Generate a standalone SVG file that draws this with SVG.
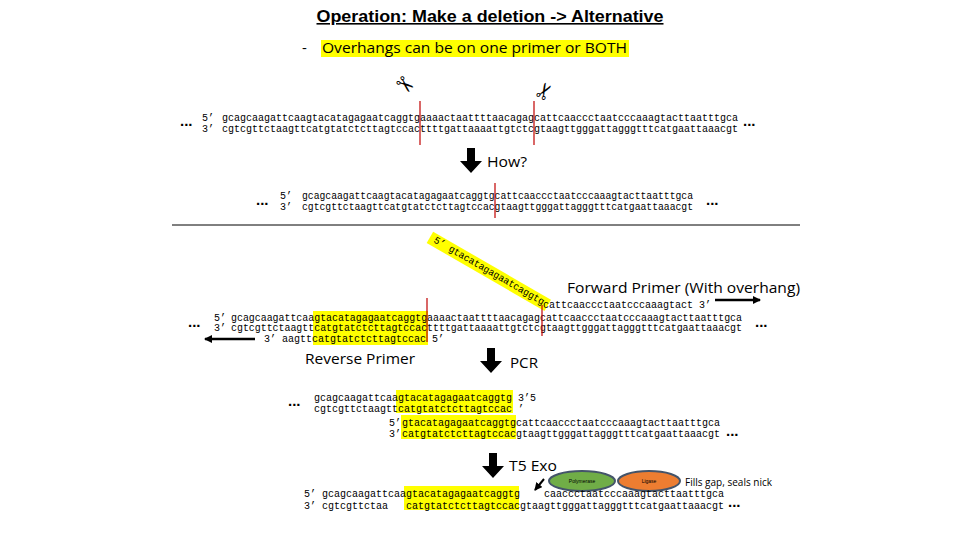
<svg xmlns="http://www.w3.org/2000/svg" width="960" height="540" viewBox="0 0 960 540">
<style>
.m{font-family:"Liberation Mono","DejaVu Sans Mono",monospace;font-size:10px;fill:#000;white-space:pre}
.s{font-family:"Open Sans","Liberation Sans",sans-serif;fill:#000}
.d{font-family:"Liberation Sans",sans-serif;font-size:15px;font-weight:bold;fill:#000}
.hl{fill:#ffff00}
.red{stroke:#c00000;stroke-width:1.2}
.blk{fill:#000}
</style>
<defs>
<marker id="ah" markerWidth="8" markerHeight="8" refX="7" refY="4" orient="auto" markerUnits="userSpaceOnUse"><path d="M0,0 L8,4 L0,8 z" fill="#000"/></marker>
<path id="barrow" d="M-4,0 H4 V13 H11 L0,25 L-11,13 H-4 z"/>
</defs>
<g id="title">
<text x="490" y="22" text-anchor="middle" font-family="Liberation Sans,sans-serif" font-size="16" font-weight="bold" text-decoration="underline" textLength="347" lengthAdjust="spacingAndGlyphs">Operation: Make a deletion -&gt; Alternative</text>
<rect class="hl" x="321" y="40" width="308" height="17"/>
<text class="s" x="302" y="53" font-size="15">-</text>
<text class="s" x="322" y="53" font-size="15" textLength="305" lengthAdjust="spacingAndGlyphs">Overhangs can be on one primer or BOTH</text>
</g>
<g id="scissors" font-family="DejaVu Sans,sans-serif" font-size="22">
<text x="0" y="0" transform="translate(404,86) rotate(40)" text-anchor="middle" dominant-baseline="middle">✂</text>
<text x="0" y="0" transform="translate(546,92) rotate(-60)" text-anchor="middle" dominant-baseline="middle">✂</text>
</g>
<g id="row1">
<text class="d" x="180" y="126">...</text>
<text class="m" x="202" y="121">5’</text>
<text class="m" x="222" y="121" textLength="516" lengthAdjust="spacingAndGlyphs">gcagcaagattcaagtacatagagaatcaggtgaaaactaattttaacagagcattcaaccctaatcccaaagtacttaatttgca</text>
<text class="m" x="202" y="132">3’</text>
<text class="m" x="222" y="132" textLength="516" lengthAdjust="spacingAndGlyphs">cgtcgttctaagttcatgtatctcttagtccacttttgattaaaattgtctcgtaagttgggattagggtttcatgaattaaacgt</text>
<text class="d" x="743" y="126">...</text>
<line class="red" x1="420" y1="101" x2="420" y2="145"/>
<line class="red" x1="534" y1="101" x2="534" y2="145"/>
</g>
<g id="how">
<use href="#barrow" x="471" y="148" class="blk"/>
<text class="s" x="487" y="167" font-size="15" textLength="40" lengthAdjust="spacingAndGlyphs">How?</text>
</g>
<g id="row2">
<text class="d" x="256" y="205">...</text>
<text class="m" x="280" y="199">5’</text>
<text class="m" x="302" y="199" textLength="391" lengthAdjust="spacingAndGlyphs">gcagcaagattcaagtacatagagaatcaggtgcattcaaccctaatcccaaagtacttaatttgca</text>
<text class="m" x="280" y="210">3’</text>
<text class="m" x="302" y="210" textLength="391" lengthAdjust="spacingAndGlyphs">cgtcgttctaagttcatgtatctcttagtccacgtaagttgggattagggtttcatgaattaaacgt</text>
<text class="d" x="706" y="205">...</text>
<line class="red" x1="495" y1="183" x2="495" y2="218"/>
</g>
<line x1="172" y1="225" x2="800" y2="225" stroke="#000" stroke-width="1"/>
<g id="forward-primer">
<g transform="translate(433,242) rotate(30)">
<rect class="hl" x="-5" y="-9" width="136" height="13"/>
<text class="m" x="0" y="0" textLength="126" lengthAdjust="spacingAndGlyphs">5’ gtacatagagaatcaggtg</text>
</g>
<text class="m" x="543" y="308">cattcaaccctaatcccaaagtact 3’</text>
<text class="s" x="567" y="293" font-size="15" textLength="233" lengthAdjust="spacingAndGlyphs">Forward Primer (With overhang)</text>
</g>
<g id="row3">
<rect class="hl" x="313" y="311" width="115" height="34"/>
<text class="d" x="188" y="327">...</text>
<text class="m" x="214" y="321">5’</text>
<text class="m" x="231" y="321" textLength="511" lengthAdjust="spacingAndGlyphs">gcagcaagattcaagtacatagagaatcaggtgaaaactaattttaacagagcattcaaccctaatcccaaagtacttaatttgca</text>
<text class="m" x="214" y="331">3’</text>
<text class="m" x="231" y="331" textLength="511" lengthAdjust="spacingAndGlyphs">cgtcgttctaagttcatgtatctcttagtccacttttgattaaaattgtctcgtaagttgggattagggtttcatgaattaaacgt</text>
<text class="d" x="755" y="327">...</text>
<line class="red" x1="427" y1="298" x2="427" y2="342"/>
<line class="red" x1="542" y1="305" x2="542" y2="336"/>
</g>
<g id="reverse-primer">
<text class="m" x="264" y="342">3’ aagttcatgtatctcttagtccac 5’</text>
<text class="s" x="305" y="364" font-size="15" textLength="110" lengthAdjust="spacingAndGlyphs">Reverse Primer</text>
</g>
<g id="connectors" stroke="#000" stroke-width="2.5" fill="none">
<line x1="255" y1="339" x2="205" y2="339" marker-end="url(#ah)"/>
<line x1="715" y1="300" x2="760" y2="300" marker-end="url(#ah)"/>
<line x1="544" y1="479" x2="535" y2="490" stroke-width="2" marker-end="url(#ah)"/>
</g>
<g id="pcr">
<use href="#barrow" x="491" y="348" class="blk"/>
<text class="s" x="510" y="368" font-size="15" textLength="28" lengthAdjust="spacingAndGlyphs">PCR</text>
</g>
<g id="pcr-products">
<rect class="hl" x="396" y="390" width="117" height="23"/>
<rect class="hl" x="401" y="415" width="115" height="24"/>
<text class="d" x="288" y="406">...</text>
<text class="m" x="314" y="401">gcagcaagattcaagtacatagagaatcaggtg 3’5</text>
<text class="m" x="314" y="412">cgtcgttctaagttcatgtatctcttagtccac ’</text>
<text class="m" x="389" y="426">5’</text>
<text class="m" x="402" y="426">gtacatagagaatcaggtgcattcaaccctaatcccaaagtacttaatttgca</text>
<text class="m" x="389" y="437">3’</text>
<text class="m" x="402" y="437">catgtatctcttagtccacgtaagttgggattagggtttcatgaattaaacgt</text>
<text class="d" x="726" y="436">...</text>
</g>
<g id="t5exo">
<use href="#barrow" x="493" y="453" class="blk"/>
<text class="s" x="509" y="471" font-size="15" textLength="48" lengthAdjust="spacingAndGlyphs">T5 Exo</text>
</g>
<g id="polymerase">
<ellipse cx="582" cy="481" rx="33" ry="10" fill="#70ad47" stroke="#44546a" stroke-width="2"/>
<text x="582" y="483" text-anchor="middle" font-family="Liberation Sans,sans-serif" font-size="5">Polymerase</text>
</g>
<g id="ligase">
<ellipse cx="649" cy="481" rx="31" ry="10" fill="#ed7d31" stroke="#44546a" stroke-width="2"/>
<text x="649" y="483" text-anchor="middle" font-family="Liberation Sans,sans-serif" font-size="5">Ligase</text>
</g>
<text class="s" x="685" y="486" font-size="10" textLength="87" lengthAdjust="spacingAndGlyphs">Fills gap, seals nick</text>
<g id="final">
<rect class="hl" x="404" y="486" width="115" height="24"/>
<text class="m" x="304" y="497">5’</text>
<text class="m" x="322" y="497">gcagcaagattcaagtacatagagaatcaggtg    caaccctaatcccaaagtacttaatttgca</text>
<text class="m" x="304" y="509">3’</text>
<text class="m" x="322" y="509">cgtcgttctaa   catgtatctcttagtccacgtaagttgggattagggtttcatgaattaaacgt</text>
<text class="d" x="728" y="507">...</text>
</g>
</svg>
